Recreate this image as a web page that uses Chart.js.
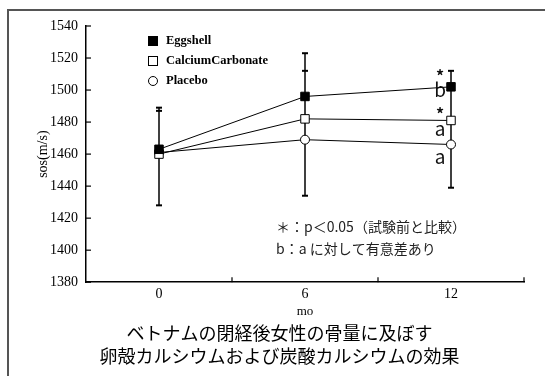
<!DOCTYPE html>
<html lang="ja">
<head>
<meta charset="utf-8">
<title>卵殻カルシウムの効果</title>
<script src="https://cdn.jsdelivr.net/npm/chart.js@4/dist/chart.umd.min.js"></script>
<style>
  html, body { margin: 0; padding: 0; background: #fff; }
  #wrap { width: 545px; height: 376px; }
</style>
</head>
<body>
<div id="wrap"><canvas id="sos-chart" width="545" height="376"></canvas></div>
<script>
// données
const mois = ['0', '6', '12'];
const yTicks = [1380, 1400, 1420, 1440, 1460, 1480, 1500, 1520, 1540];

const eggshell = [1463, 1496, 1502];
const calcium = [1460, 1482, 1481];
const placebo = [1461, 1469, 1466];

// barres d'erreur (vers le haut pour Eggshell / CalciumCarbonate, vers le bas pour Placebo)
const eggshellErr = [26, 27, 10];
const calciumErr = [27, 30, 0];
const placeboErr = [33, 35, 27];

// marques de significativité au dernier point
const eggshellMarks = ['', '', 'b'];
const calciumMarks = ['', '', 'a'];
const placeboMarks = ['', '', 'a'];
const eggshellStars = [false, false, true];
const calciumStars = [false, false, true];
const placeboStars = [false, false, false];

const footnotes = ['＊：p＜0.05（試験前と比較）', 'b：a に対して有意差あり'];
const titre = ['ベトナムの閉経後女性の骨量に及ぼす', '卵殻カルシウムおよび炭酸カルシウムの効果'];

const serif = '"Liberation Serif", "DejaVu Serif", serif';
const jp = '"Noto Sans CJK JP", "Noto Sans", sans-serif';

// cadre gris, ticks intérieurs, barres d'erreur, légende, annotations
const decorPlugin = {
    id: 'decor',
    beforeDraw(chart) {
        const ctx = chart.ctx;
        ctx.save();
        ctx.fillStyle = '#fff';
        ctx.fillRect(0, 0, chart.width, chart.height);
        ctx.strokeStyle = '#555';
        ctx.lineWidth = 2;
        ctx.beginPath();
        ctx.moveTo(8, chart.height);
        ctx.lineTo(8, 10);
        ctx.lineTo(chart.width, 10);
        ctx.stroke();
        ctx.restore();
    },
    beforeDatasetsDraw(chart) {
        const ctx = chart.ctx;
        const x = chart.scales.x, y = chart.scales.y;
        ctx.save();
        ctx.strokeStyle = '#000';
        // ticks vers l'intérieur
        ctx.lineWidth = 1.2;
        yTicks.forEach(v => {
            const py = y.getPixelForValue(v);
            ctx.beginPath();
            ctx.moveTo(chart.chartArea.left, py);
            ctx.lineTo(chart.chartArea.left + 5, py);
            ctx.stroke();
        });
        for (let i = 0; i < mois.length; i++) {
            const px = i < mois.length - 1
                ? (x.getPixelForValue(i) + x.getPixelForValue(i + 1)) / 2
                : chart.chartArea.right;
            ctx.beginPath();
            ctx.moveTo(px, chart.chartArea.bottom);
            ctx.lineTo(px, chart.chartArea.bottom - 5);
            ctx.stroke();
        }
        // barres d'erreur
        const series = [
            { data: eggshell, err: eggshellErr, sens: 1 },
            { data: calcium, err: calciumErr, sens: 1 },
            { data: placebo, err: placeboErr, sens: -1 }
        ];
        mois.forEach((m, i) => {
            const px = x.getPixelForValue(i);
            const bouts = [];
            series.forEach(s => {
                bouts.push(s.data[i]);
                if (s.err[i] > 0) bouts.push(s.data[i] + s.sens * s.err[i]);
            });
            ctx.lineWidth = 1.5;
            ctx.beginPath();
            ctx.moveTo(px, y.getPixelForValue(Math.min(...bouts)));
            ctx.lineTo(px, y.getPixelForValue(Math.max(...bouts)));
            ctx.stroke();
            ctx.lineWidth = 2;
            series.forEach(s => {
                if (s.err[i] > 0) {
                    const py = y.getPixelForValue(s.data[i] + s.sens * s.err[i]);
                    ctx.beginPath();
                    ctx.moveTo(px - 3, py);
                    ctx.lineTo(px + 3, py);
                    ctx.stroke();
                }
            });
        });
        ctx.restore();
    },
    afterDraw(chart) {
        const ctx = chart.ctx;
        const x = chart.scales.x, y = chart.scales.y;
        ctx.save();
        // légende dans la zone du graphique
        ctx.font = 'bold 12.5px ' + serif;
        ctx.textBaseline = 'middle';
        ctx.textAlign = 'left';
        chart.data.datasets.forEach((ds, k) => {
            const ly = 41 + k * 20;
            const lx = 153;
            ctx.fillStyle = ds.pointBackgroundColor;
            ctx.strokeStyle = '#000';
            ctx.lineWidth = 1;
            if (ds.pointStyle === 'rect') {
                ctx.fillRect(lx - 4.5, ly - 4.5, 9, 9);
                ctx.strokeRect(lx - 4.5, ly - 4.5, 9, 9);
            } else {
                ctx.beginPath();
                ctx.arc(lx, ly, 4.5, 0, Math.PI * 2);
                ctx.fill();
                ctx.stroke();
            }
            ctx.fillStyle = '#000';
            ctx.fillText(ds.label, lx + 13, ly);
        });
        // lettres et étoiles
        const annot = [
            { data: eggshell, marks: eggshellMarks, stars: eggshellStars, dl: 3, ds: -11 },
            { data: calcium, marks: calciumMarks, stars: calciumStars, dl: 8, ds: -7 },
            { data: placebo, marks: placeboMarks, stars: placeboStars, dl: 12, ds: -10 }
        ];
        ctx.fillStyle = '#111';
        ctx.textAlign = 'center';
        annot.forEach(a => {
            a.data.forEach((v, i) => {
                const px = x.getPixelForValue(i) - 11;
                const py = y.getPixelForValue(v);
                if (a.marks[i]) {
                    ctx.font = '19px ' + jp;
                    ctx.fillText(a.marks[i], px, py + a.dl);
                }
                if (a.stars[i]) {
                    ctx.font = 'bold 16px ' + jp;
                    ctx.fillText('*', px, py + a.ds);
                }
            });
        });
        // notes
        ctx.font = '14px ' + jp;
        ctx.textAlign = 'left';
        ctx.fillStyle = '#222';
        footnotes.forEach((t, k) => ctx.fillText(t, 276, 227 + k * 22));
        ctx.restore();
    }
};

function dessinerGraphique() {
    const ctx = document.getElementById('sos-chart').getContext('2d');
    new Chart(ctx, {
        type: 'line',
        data: {
            labels: mois,
            datasets: [
                {
                    label: 'Eggshell',
                    data: eggshell,
                    borderColor: '#000',
                    borderWidth: 1,
                    pointStyle: 'rect',
                    pointRadius: 6,
                    pointBackgroundColor: '#000',
                    pointBorderColor: '#000',
                    tension: 0
                },
                {
                    label: 'CalciumCarbonate',
                    data: calcium,
                    borderColor: '#000',
                    borderWidth: 1,
                    pointStyle: 'rect',
                    pointRadius: 6,
                    pointBackgroundColor: '#fff',
                    pointBorderColor: '#000',
                    pointBorderWidth: 1,
                    tension: 0
                },
                {
                    label: 'Placebo',
                    data: placebo,
                    borderColor: '#000',
                    borderWidth: 1,
                    pointStyle: 'circle',
                    pointRadius: 4.5,
                    pointBackgroundColor: '#fff',
                    pointBorderColor: '#000',
                    pointBorderWidth: 1,
                    tension: 0
                }
            ]
        },
        options: {
            responsive: false,
            animation: false,
            devicePixelRatio: 1,
            layout: { padding: { left: 35, right: 21, top: 26, bottom: 0 } },
            scales: {
                x: {
                    offset: true,
                    grid: { display: false, drawTicks: false },
                    border: { display: true, color: '#000', width: 1.5 },
                    ticks: { color: '#000', font: { family: serif, size: 14 }, padding: 4, maxRotation: 0 },
                    title: { display: true, text: 'mo', color: '#000', font: { family: serif, size: 13 }, padding: 0 },
                    afterFit: s => { s.height = 37; }
                },
                y: {
                    min: 1380,
                    max: 1540,
                    afterBuildTicks: s => { s.ticks = yTicks.map(v => ({ value: v })); },
                    grid: { display: false, drawTicks: false },
                    border: { display: true, color: '#000', width: 1.5 },
                    ticks: { color: '#000', font: { family: serif, size: 14 }, padding: 8, callback: v => String(v) },
                    title: { display: true, text: 'sos(m/s)', color: '#000', font: { family: serif, size: 14 }, padding: 0 },
                    afterFit: s => { s.width = 51; }
                }
            },
            plugins: {
                legend: { display: false },
                tooltip: { enabled: false },
                title: {
                    display: true,
                    position: 'bottom',
                    text: titre,
                    color: '#000',
                    font: { family: jp, size: 18, weight: 'normal', lineHeight: 1.3 },
                    padding: { top: 2, bottom: 8 }
                }
            }
        },
        plugins: [decorPlugin]
    });
}

document.addEventListener('DOMContentLoaded', dessinerGraphique);
</script>
</body>
</html>
